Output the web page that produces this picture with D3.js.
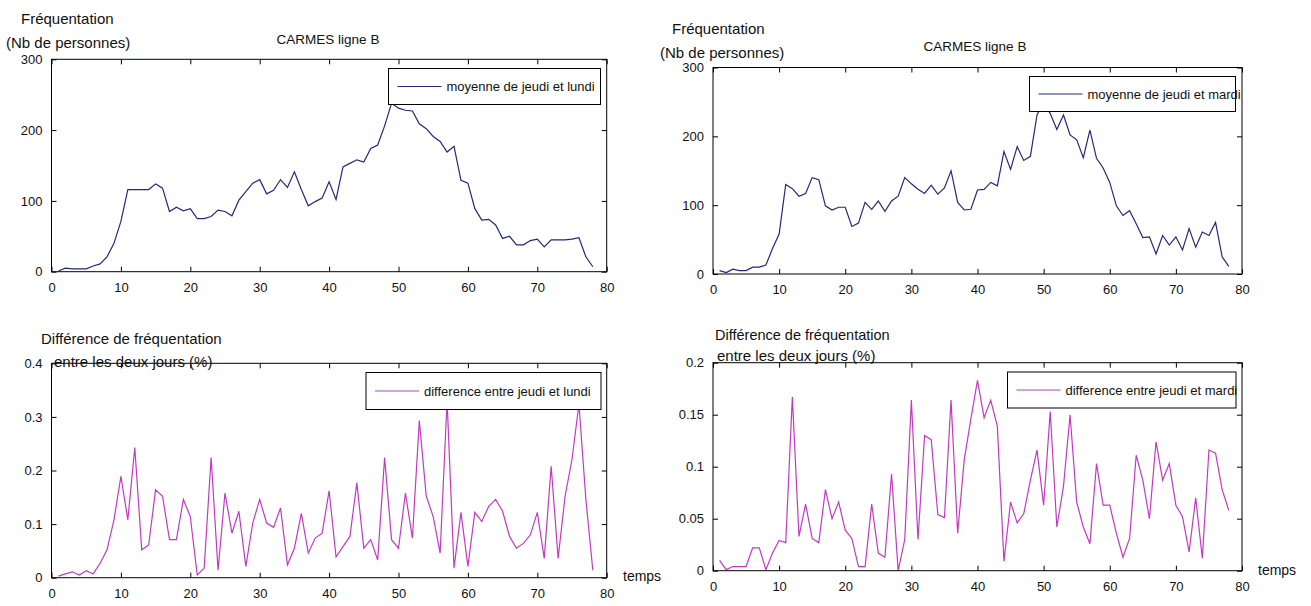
<!DOCTYPE html>
<html><head><meta charset="utf-8">
<script src="https://cdn.jsdelivr.net/npm/d3@7"></script>
<style>
body{margin:0;background:#fff;}
svg{display:block;}
</style></head>
<body>
<svg id="c" width="1311" height="606"></svg>
<script>
// ---- data ----
const timeSteps = d3.range(1, 79);
const xTicks = [0,10,20,30,40,50,60,70,80];
const yTicksCount = [0,100,200,300];
const yTicksDiffLundi = [0,0.1,0.2,0.3,0.4];
const yTicksDiffMardi = [0,0.05,0.1,0.15,0.2];

const moyenneJeudiLundi = [1,5,4,4,4,8,11,21,40,71,116,116,116,116,124,118,85,91,86,89,
 75,75,78,87,85,79,101,113,125,130,110,115,130,119,141,116,93,99,104,127,
 102,148,153,158,155,174,179,206,238,231,228,227,209,202,191,184,169,177,129,125,
 89,73,74,66,47,50,38,38,44,46,35,45,45,45,46,48,21,7];

const moyenneJeudiMardi = [5,2,7,5,5,10,10,13,37,58,130,124,113,117,140,137,99,93,97,97,
 69,74,104,94,106,91,106,113,140,131,123,117,129,116,125,150,104,93,94,122,
 123,133,128,178,152,185,165,171,231,250,233,210,231,202,195,169,209,168,154,133,
 99,85,92,73,53,54,29,56,42,54,35,66,39,61,56,75,25,11];

const diffJeudiLundi = [0.003,0.007,0.011,0.005,0.013,0.007,0.027,0.052,0.108,0.189,
 0.108,0.243,0.052,0.061,0.164,0.152,0.071,0.071,0.146,0.114,
 0.005,0.018,0.224,0.014,0.158,0.083,0.124,0.021,0.102,0.146,
 0.102,0.094,0.13,0.024,0.055,0.12,0.046,0.074,0.083,0.162,
 0.039,0.058,0.077,0.177,0.055,0.071,0.033,0.224,0.071,0.055,
 0.158,0.074,0.293,0.152,0.114,0.046,0.33,0.018,0.122,0.021,
 0.122,0.105,0.133,0.146,0.124,0.077,0.055,0.064,0.08,0.122,
 0.036,0.208,0.036,0.152,0.221,0.324,0.146,0.014];

const diffJeudiMardi = [0.01,0.001,0.004,0.004,0.004,0.022,0.022,0.001,0.017,0.029,
 0.027,0.167,0.033,0.064,0.031,0.027,0.078,0.05,0.066,0.039,
 0.031,0.004,0.004,0.064,0.017,0.013,0.093,0.0,0.03,0.164,
 0.03,0.13,0.126,0.054,0.051,0.164,0.036,0.107,0.146,0.183,
 0.147,0.164,0.139,0.009,0.066,0.046,0.055,0.087,0.116,0.063,
 0.153,0.042,0.081,0.15,0.066,0.042,0.026,0.103,0.063,0.063,
 0.036,0.013,0.031,0.111,0.087,0.05,0.124,0.087,0.103,0.063,
 0.052,0.018,0.07,0.012,0.116,0.113,0.078,0.058];

const titleText = "CARMES ligne B";
const legendTexts = ["moyenne de jeudi et lundi","moyenne de jeudi et mardi",
  "difference entre jeudi et lundi","difference entre jeudi et mardi"];

// ---- drawing ----
const svg = d3.select("#c");
const NAVY = "#27277a", MAG = "#c23ac2";
const tickFont = '"Liberation Sans",Arial,sans-serif';
const labelFont = '"Liberation Sans",Arial,sans-serif';

function panel(o){
  const x = d3.scaleLinear().domain([0,80]).range([o.l,o.r]);
  const y = d3.scaleLinear().domain(o.ydom).range([o.b,o.t]);
  const g = svg.append("g");
  const line = d3.line().x((d,i)=>x(timeSteps[i])).y(d=>y(d));
  const id = "clip"+o.id;
  svg.append("clipPath").attr("id",id).append("rect")
    .attr("x",o.l).attr("y",o.t).attr("width",o.r-o.l).attr("height",o.b-o.t);
  g.append("path").datum(o.data).attr("d",line).attr("fill","none")
    .attr("stroke",o.color).attr("stroke-width",1.2).attr("clip-path",`url(#${id})`);
  const ax = [
    d3.axisBottom(x).tickValues(xTicks).tickSizeInner(-5).tickSizeOuter(0).tickPadding(11),
    d3.axisTop(x).tickValues(xTicks).tickSizeInner(-5).tickSizeOuter(0).tickFormat(""),
    d3.axisLeft(y).tickValues(o.yticks).tickSizeInner(-5).tickSizeOuter(0).tickPadding(9).tickFormat(o.fmt),
    d3.axisRight(y).tickValues(o.yticks).tickSizeInner(-5).tickSizeOuter(0).tickFormat("")
  ];
  const tr = [`translate(0,${o.b})`,`translate(0,${o.t})`,`translate(${o.l},0)`,`translate(${o.r},0)`];
  ax.forEach((a,i)=>{
    const gg = g.append("g").attr("transform",tr[i]).call(a);
    gg.select(".domain").remove();
    gg.selectAll("line").attr("stroke","#000");
    gg.selectAll("text").attr("font-family",tickFont).attr("font-size",13).attr("fill","#111");
  });
  g.append("rect").attr("x",o.l).attr("y",o.t).attr("width",o.r-o.l).attr("height",o.b-o.t)
    .attr("fill","none").attr("stroke","#000").attr("stroke-width",1);
  const L = o.leg;
  g.append("rect").attr("x",L.x).attr("y",L.y).attr("width",L.w).attr("height",L.h)
    .attr("fill","#fff").attr("stroke","#000").attr("stroke-width",1);
  g.append("line").attr("x1",L.x+9).attr("x2",L.x+53).attr("y1",L.y+L.h/2).attr("y2",L.y+L.h/2)
    .attr("stroke",o.color).attr("stroke-width",1.2);
  g.append("text").attr("x",L.x+58).attr("y",L.y+L.h/2+4.5).text(L.text)
    .attr("font-family",tickFont).attr("font-size",13).attr("fill","#111");
  (o.texts||[]).forEach(t=>{
    g.append("text").attr("x",t.x).attr("y",t.y).text(t.s)
      .attr("font-family",t.f||labelFont).attr("font-size",t.fs||15)
      .attr("text-anchor",t.a||"start").attr("fill","#111");
  });
}

const fmtDiff = d => d===0 ? "0" : d3.format("")(d);

panel({id:1,l:51.5,r:606.7,t:59.3,b:271.7,ydom:[0,300],yticks:yTicksCount,fmt:d3.format("d"),
  data:moyenneJeudiLundi,color:NAVY,
  leg:{x:388.5,y:68.5,w:212,h:36,text:legendTexts[0]},
  texts:[{x:328,y:44,s:titleText,a:"middle",fs:13.5},
         {x:21,y:24,s:"Fréquentation"},{x:6,y:48,s:"(Nb de personnes)"}]});

panel({id:2,l:713,r:1242,t:67.5,b:274,ydom:[0,300],yticks:yTicksCount,fmt:d3.format("d"),
  data:moyenneJeudiMardi,color:NAVY,
  leg:{x:1029.5,y:76.5,w:206,h:35,text:legendTexts[1]},
  texts:[{x:975,y:51,s:titleText,a:"middle",fs:13.5},
         {x:672,y:34,s:"Fréquentation"},{x:660,y:58,s:"(Nb de personnes)"}]});

panel({id:3,l:51.5,r:606.7,t:363.3,b:577.7,ydom:[0,0.4],yticks:yTicksDiffLundi,fmt:fmtDiff,
  data:diffJeudiLundi,color:MAG,
  leg:{x:366,y:372.5,w:235,h:37,text:legendTexts[2]},
  texts:[{x:41,y:344,s:"Différence de fréquentation"},{x:54,y:367,s:"entre les deux jours (%)"},
         {x:623,y:581,s:"temps",fs:14}]});

panel({id:4,l:713,r:1242,t:362.7,b:570.7,ydom:[0,0.2],yticks:yTicksDiffMardi,fmt:fmtDiff,
  data:diffJeudiMardi,color:MAG,
  leg:{x:1007.5,y:372,w:228.5,h:36,text:legendTexts[3]},
  texts:[{x:715,y:340,s:"Différence de fréquentation",fs:14.5},{x:717,y:361,s:"entre les deux jours (%)"},
         {x:1258,y:575,s:"temps",fs:14}]});
</script>
</body></html>
